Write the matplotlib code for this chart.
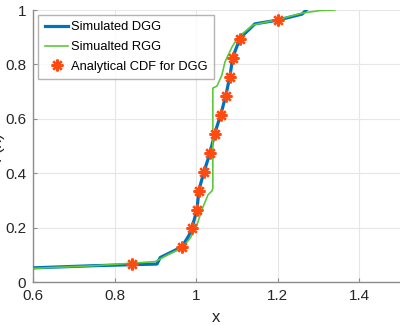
import matplotlib
matplotlib.use("Agg")
import matplotlib.pyplot as plt

# simulated DGG (blue)
dgg_x = [0.55, 0.6, 0.75, 0.904, 0.912, 0.965, 0.982, 0.99, 1.002, 1.007, 1.019, 1.034, 1.046,
         1.061, 1.073, 1.083, 1.09, 1.108, 1.144, 1.201, 1.26, 1.27]
dgg_y = [0.048, 0.052, 0.06, 0.066, 0.09, 0.129, 0.17, 0.2, 0.265, 0.338, 0.404, 0.474, 0.548,
         0.618, 0.687, 0.757, 0.827, 0.897, 0.949, 0.963, 0.985, 1.0]

# simulated RGG (green)
rgg_x = [0.55, 0.6, 0.75, 0.9, 0.93, 0.965, 0.985, 1.0, 1.014, 1.029, 1.039, 1.041, 1.041,
         1.051, 1.063, 1.071, 1.088, 1.103, 1.14, 1.2, 1.262, 1.304, 1.34]
rgg_y = [0.045, 0.05, 0.06, 0.075, 0.1, 0.125, 0.16, 0.2, 0.265, 0.32, 0.335, 0.345, 0.713,
         0.72, 0.76, 0.81, 0.864, 0.9, 0.945, 0.965, 0.989, 0.998, 1.0]

# analytical CDF markers
cdf_x = [0.843, 0.965, 0.99, 1.002, 1.007, 1.019, 1.034, 1.046, 1.061, 1.073, 1.083, 1.09, 1.108, 1.201]
cdf_y = [0.065, 0.13, 0.2, 0.265, 0.335, 0.405, 0.475, 0.545, 0.615, 0.685, 0.755, 0.825, 0.895, 0.965]

xticks = [0.6, 0.8, 1.0, 1.2, 1.4]
xticklabels = ["0.6", "0.8", "1", "1.2", "1.4"]
yticks = [0, 0.2, 0.4, 0.6, 0.8, 1.0]
yticklabels = ["0", "0.2", "0.4", "0.6", "0.8", "1"]

plt.rcParams['font.family'] = ['Liberation Sans', 'DejaVu Sans']

fig = plt.figure(figsize=(4, 3.25), dpi=100)
ax = fig.add_axes([33/400, 43/325, 367/400, 272/325])

ax.plot(dgg_x, dgg_y, color='#0072BD', lw=2.3, label='Simulated DGG', zorder=3)
ax.plot(rgg_x, rgg_y, color='#5DC83A', lw=1.2, label='Simualted RGG', zorder=4)
ax.plot(cdf_x, cdf_y, ls='none', marker=(8, 2, 0), ms=8.5, mew=1.7, color='#FF4A10',
        label='Analytical CDF for DGG', zorder=5)

ax.set_xlim(0.6, 1.5)
ax.set_ylim(0, 1)
ax.set_xticks(xticks)
ax.set_xticklabels(xticklabels)
ax.set_yticks(yticks)
ax.set_yticklabels(yticklabels)
ax.grid(True, color='#e6e6e6', lw=0.8)
ax.set_axisbelow(True)
for s in ['top', 'right']:
    ax.spines[s].set_visible(False)
for s in ['left', 'bottom']:
    ax.spines[s].set_color('#8c8c8c')
    ax.spines[s].set_linewidth(1.0)
ax.tick_params(direction='in', length=3, color='#8c8c8c', labelsize=11, labelcolor='#262626', pad=5)

ax.set_xlabel('x', fontsize=12, color='#262626', labelpad=5)
# y label sits mostly outside the cropped figure, as in the reference
fig.text(0.008, 0.55, 'F(x)', rotation=90, ha='right', va='center', fontsize=12, color='#262626')

leg = ax.legend(loc='upper left', bbox_to_anchor=(0.014, 0.982), borderaxespad=0, fontsize=9.3,
                frameon=True, fancybox=False, edgecolor='#a0a0a0', handlelength=1.85,
                handletextpad=0.2, borderpad=0.5, labelspacing=0.6)
leg.get_frame().set_linewidth(1.0)

fig.savefig('out.png', dpi=100)
